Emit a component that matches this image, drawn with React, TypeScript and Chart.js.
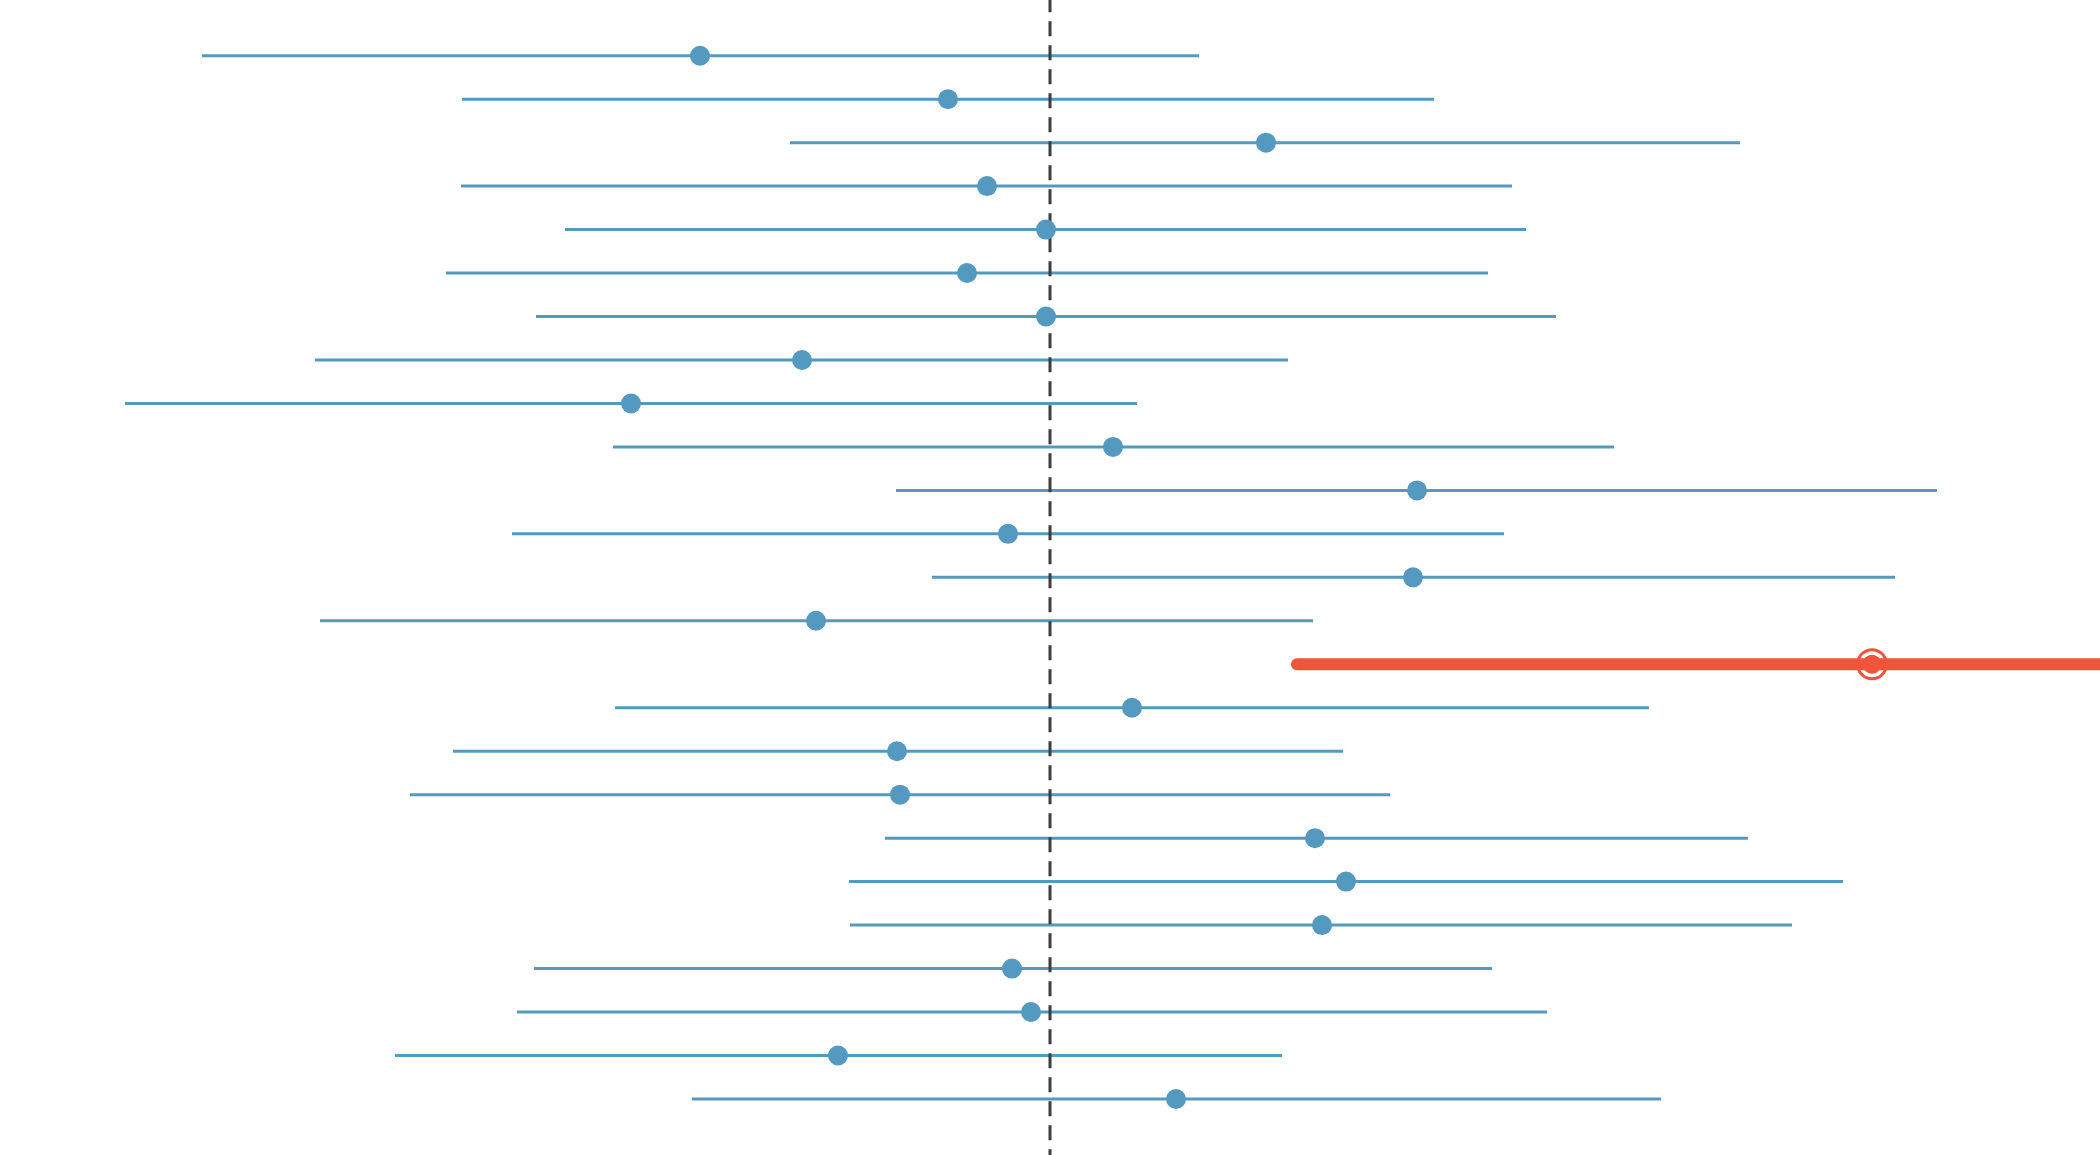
import React, { useEffect, useRef } from "react";
import { Chart, registerables } from "chart.js";

Chart.register(...registerables);

// Row numbers (1 = top row)
const rows = [1, 2, 3, 4, 5, 6, 7, 8, 9, 10, 11, 12, 13, 14, 15, 16, 17, 18, 19, 20, 21, 22, 23, 24, 25];
// Point estimates
const estimates = [-3.5, -1.02, 2.16, -0.63, -0.04, -0.83, -0.04, -2.48, -4.19, 0.63, 3.67, -0.42, 3.63, -2.34, 8.22, 0.82, -1.53, -1.5, 2.65, 2.96, 2.72, -0.38, -0.19, -2.12, 1.26];
// Lower bounds of intervals
const lower = [-8.48, -5.88, -2.6, -5.89, -4.85, -6.04, -5.14, -7.35, -9.25, -4.37, -1.54, -5.38, -1.18, -7.3, 2.47, -4.35, -5.97, -6.4, -1.65, -2.01, -2.0, -5.16, -5.33, -6.55, -3.58];
// Upper bounds of intervals
const upper = [1.49, 3.84, 6.9, 4.62, 4.76, 4.38, 5.06, 2.38, 0.87, 5.64, 8.87, 4.54, 8.45, 2.63, 13.97, 5.99, 2.93, 3.4, 6.98, 7.93, 7.42, 4.42, 4.97, 2.32, 6.11];
// Highlighted row (1-based)
const highlightRow = 15;
// Reference value (dashed line)
const referenceValue = 0;

const BLUE = "#5499bf";
const RED = "#f0543a";

export default function App() {
  const ref = useRef<HTMLCanvasElement | null>(null);

  useEffect(() => {
    document.body.style.margin = "0";
    const canvas = ref.current;
    if (!canvas) return;

    const ciData: any[] = [];
    const dotData: any[] = [];
    rows.forEach((r, i) => {
      if (r === highlightRow) return;
      ciData.push({ x: lower[i], y: r }, { x: upper[i], y: r }, { x: null, y: null });
      dotData.push({ x: estimates[i], y: r });
    });
    const hi = rows.indexOf(highlightRow);
    const redLine = [
      { x: lower[hi], y: highlightRow },
      { x: upper[hi], y: highlightRow },
    ];
    const redPoint = [{ x: estimates[hi], y: highlightRow }];

    const chart = new Chart(canvas, {
      type: "scatter",
      data: {
        datasets: [
          {
            label: "ci",
            data: ciData,
            showLine: true,
            borderColor: BLUE,
            borderWidth: 3,
            pointRadius: 0,
            spanGaps: false,
            order: 6,
          } as any,
          {
            label: "reference",
            data: [
              { x: referenceValue, y: -2 },
              { x: referenceValue, y: 28 },
            ],
            showLine: true,
            borderColor: "#3d3d3d",
            borderWidth: 3,
            borderDash: [15, 9],
            pointRadius: 0,
            order: 5,
          },
          {
            label: "estimates",
            data: dotData,
            showLine: false,
            pointRadius: 10,
            pointBackgroundColor: BLUE,
            pointBorderWidth: 0,
            pointBorderColor: BLUE,
            order: 4,
          },
          {
            label: "highlight ring",
            data: redPoint,
            showLine: false,
            pointRadius: 14.5,
            pointBackgroundColor: "#ffffff",
            pointBorderColor: RED,
            pointBorderWidth: 3,
            order: 3,
          },
          {
            label: "highlight ci",
            data: redLine,
            showLine: true,
            borderColor: RED,
            borderWidth: 12,
            borderCapStyle: "round",
            pointRadius: 0,
            order: 2,
          },
          {
            label: "highlight estimate",
            data: redPoint,
            showLine: false,
            pointRadius: 9.5,
            pointBackgroundColor: RED,
            pointBorderWidth: 0,
            pointBorderColor: RED,
            order: 1,
          },
        ],
      },
      options: {
        animation: false,
        responsive: false,
        events: [],
        layout: { padding: 0, autoPadding: false },
        plugins: {
          legend: { display: false },
          tooltip: { enabled: false },
          title: { display: false },
        },
        scales: {
          x: {
            type: "linear",
            display: false,
            min: -10.5,
            max: 10.5,
          },
          y: {
            type: "linear",
            display: false,
            reverse: true,
            min: -0.2813,
            max: 26.289,
          },
        },
      },
    });

    return () => chart.destroy();
  }, []);

  return (
    <div style={{ position: "absolute", left: 0, top: 0, width: 2100, height: 1155, background: "#fff" }}>
      <canvas ref={ref} width={2100} height={1155} style={{ display: "block", width: 2100, height: 1155 }} />
    </div>
  );
}
